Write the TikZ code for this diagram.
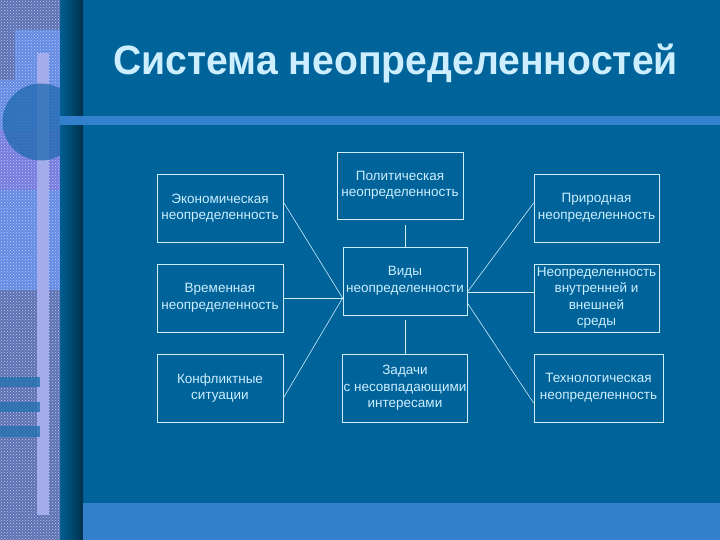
\documentclass[tikz,border=0pt]{standalone}
\usepackage{fontspec}
\setmainfont{Liberation Sans}
\usetikzlibrary{calc,patterns}
\definecolor{slidebg}{RGB}{0,99,153}
\definecolor{bandblue}{RGB}{51,128,204}
\definecolor{txtcyan}{RGB}{204,238,255}
\definecolor{stripbase}{RGB}{92,112,178}
\definecolor{stripdot}{RGB}{190,205,245}
\definecolor{patchblue}{RGB}{98,138,228}
\definecolor{patchviolet}{RGB}{118,122,222}
\definecolor{barlav}{RGB}{165,172,236}
\definecolor{circblue}{RGB}{30,105,175}
\definecolor{tealbar}{RGB}{40,115,175}

\begin{document}
\begin{tikzpicture}[x=1pt,y=-1pt,
    vbox/.style={draw=txtcyan,line width=.8pt,text=txtcyan,align=center,
      minimum width=126pt,minimum height=68pt,inner sep=1pt,
      font=\fontsize{13.5}{16.5}\selectfont},
    link/.style={draw=txtcyan,line width=.6pt}]
  % slide background
  \fill[slidebg] (0,0) rectangle (720,540);
  \useasboundingbox (0,0) rectangle (720,540);
  % textured strip on the left
  \fill[stripbase] (0,0) rectangle (60,540);
  \fill[patchblue] (15,30) rectangle (60,290);
  \fill[patchblue] (0,80) rectangle (15,290);
  \fill[patchviolet] (0,130) rectangle (60,190);
  \fill[pattern=crosshatch dots,pattern color=stripdot] (0,0) rectangle (60,540);
  \fill[barlav] (37,53) rectangle (49,515);
  \begin{scope}
    \clip (0,0) rectangle (60,540);
    \fill[circblue,opacity=.75] (41,122) circle (38.5pt);
  \end{scope}
  \foreach \ya/\yb in {377/387,402/412,426/437}
    \fill[tealbar,opacity=.85] (0,\ya) rectangle (40,\yb);
  \shade[left color=slidebg!95!black,right color=slidebg!50!black] (60,0) rectangle (83,540);
  % title rule and bottom band
  \fill[bandblue] (60,116) rectangle (720,125);
  \fill[bandblue] (83,503) rectangle (720,540);

  \node[anchor=base west,text=txtcyan,inner sep=0pt,
    font=\fontsize{41}{41}\selectfont\bfseries] (title) at (113,75)
    {\scalebox{.955}[1]{Система неопределенностей}};

  % boxes
  \node[vbox] (eco) at (220,208) {Экономическая\\неопределенность};
  \node[vbox] (vrem) at (220,298) {Временная\\неопределенность};
  \node[vbox] (konf) at (220,388) {Конфликтные\\ситуации};
  \node[vbox,minimum height=67pt] (pol) at (400,185.5) {Политическая\\неопределенность};
  \node[vbox,minimum width=124pt] (vidy) at (405,281) {Виды\\неопределенности};
  \node[vbox,minimum width=124pt] (zad) at (405,388) {Задачи\\с несовпадающими\\интересами};
  \node[vbox,minimum width=125pt] (prir) at (596.5,208) {Природная\\неопределенность};
  \node[vbox,minimum width=125pt] (sreda) at (596.5,298) {Неопределенность\\внутренней и\\внешней\\среды};
  \node[vbox,minimum width=129pt] (tech) at (598.5,388) {Технологическая\\неопределенность};

  \coordinate (vl) at (vidy.west |- vrem.east);
  \coordinate (vr) at ([yshift=-11pt]vidy.east);
  \coordinate (vrlow) at ([yshift=-22pt]vidy.east);

  % connectors
  \draw[link,shorten >=6pt] (vidy.north) -- (vidy.north |- pol.south);
  \draw[link,shorten <=5pt] (vidy.south) -- (zad.north);
  \draw[link] ([yshift=6pt]eco.east) -- (vl);
  \draw[link] (vrem.east) -- (vl);
  \draw[link] ([yshift=-10pt]konf.east) -- (vl);
  \draw[link] (vr) -- ([yshift=5pt]prir.west);
  \draw[link] (vr) -- (sreda.west |- vr);
  \draw[link] (vrlow) -- ([yshift=-15pt]tech.west);
\end{tikzpicture}
\end{document}
